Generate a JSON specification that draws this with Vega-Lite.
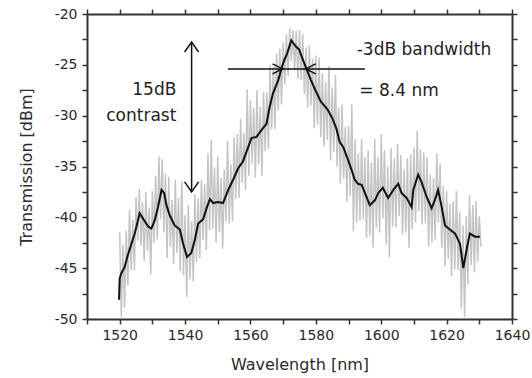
{
  "$schema": "https://vega.github.io/schema/vega-lite/v6.json",
  "autosize": "none",
  "width": 425,
  "height": 305,
  "padding": {"left": 87, "top": 14, "right": 20, "bottom": 59},
  "background": "white",
  "config": {
    "view": {"stroke": null},
    "font": "DejaVu Sans",
    "axis": {
      "domainColor": "#333333", "domainWidth": 2,
      "tickColor": "#333333", "tickWidth": 1.5, "tickSize": 5,
      "grid": false,
      "labelFont": "DejaVu Sans", "labelFontSize": 14, "labelColor": "#2a2a2a",
      "titleFont": "DejaVu Sans", "titleFontSize": 16, "titleFontWeight": "normal", "titleColor": "#2a2a2a"
    }
  },
  "datasets": {
    "raw": [
      {"w":1520.0,"p":-41.5},{"w":1520.5,"p":-49.8},{"w":1521.0,"p":-42.7},{"w":1521.5,"p":-48.9},{"w":1522.0,"p":-41.3},{"w":1522.5,"p":-46.7},{"w":1523.0,"p":-39.2},{"w":1523.5,"p":-45.2},{"w":1524.0,"p":-40.2},{"w":1524.5,"p":-45.2},
      {"w":1525.0,"p":-38.0},{"w":1525.5,"p":-42.3},{"w":1526.0,"p":-37.2},{"w":1526.5,"p":-42.8},{"w":1527.0,"p":-38.5},{"w":1527.5,"p":-44.3},{"w":1528.0,"p":-37.5},{"w":1528.5,"p":-43.3},{"w":1529.0,"p":-39.0},{"w":1529.5,"p":-45.6},
      {"w":1530.0,"p":-37.4},{"w":1530.5,"p":-42.5},{"w":1531.0,"p":-35.9},{"w":1531.5,"p":-42.2},{"w":1532.0,"p":-34.0},{"w":1532.5,"p":-40.2},{"w":1533.0,"p":-34.3},{"w":1533.5,"p":-41.5},{"w":1534.0,"p":-35.7},{"w":1534.5,"p":-44.0},
      {"w":1535.0,"p":-36.0},{"w":1535.5,"p":-42.9},{"w":1536.0,"p":-38.3},{"w":1536.5,"p":-44.6},{"w":1537.0,"p":-36.3},{"w":1537.5,"p":-43.5},{"w":1538.0,"p":-38.1},{"w":1538.5,"p":-45.3},{"w":1539.0,"p":-36.5},{"w":1539.5,"p":-45.7},
      {"w":1540.0,"p":-39.8},{"w":1540.5,"p":-47.8},{"w":1541.0,"p":-38.8},{"w":1541.5,"p":-46.1},{"w":1542.0,"p":-40.4},{"w":1542.5,"p":-46.3},{"w":1543.0,"p":-37.7},{"w":1543.5,"p":-44.4},{"w":1544.0,"p":-38.1},{"w":1544.5,"p":-44.0},
      {"w":1545.0,"p":-36.3},{"w":1545.5,"p":-42.2},{"w":1546.0,"p":-36.7},{"w":1546.5,"p":-43.2},{"w":1547.0,"p":-33.7},{"w":1547.5,"p":-41.3},{"w":1548.0,"p":-32.4},{"w":1548.5,"p":-41.1},{"w":1549.0,"p":-35.1},{"w":1549.5,"p":-42.5},
      {"w":1550.0,"p":-34.0},{"w":1550.5,"p":-41.5},{"w":1551.0,"p":-36.1},{"w":1551.5,"p":-43.1},{"w":1552.0,"p":-35.3},{"w":1552.5,"p":-40.4},{"w":1553.0,"p":-32.5},{"w":1553.5,"p":-40.6},{"w":1554.0,"p":-34.8},{"w":1554.5,"p":-40.4},
      {"w":1555.0,"p":-32.1},{"w":1555.5,"p":-38.2},{"w":1556.0,"p":-31.8},{"w":1556.5,"p":-38.1},{"w":1557.0,"p":-30.3},{"w":1557.5,"p":-36.6},{"w":1558.0,"p":-31.7},{"w":1558.5,"p":-37.3},{"w":1559.0,"p":-27.4},{"w":1559.5,"p":-35.9},
      {"w":1560.0,"p":-28.5},{"w":1560.5,"p":-34.7},{"w":1561.0,"p":-29.2},{"w":1561.5,"p":-36.1},{"w":1562.0,"p":-27.5},{"w":1562.5,"p":-34.8},{"w":1563.0,"p":-29.1},{"w":1563.5,"p":-35.9},{"w":1564.0,"p":-27.7},{"w":1564.5,"p":-33.5},
      {"w":1565.0,"p":-27.7},{"w":1565.5,"p":-33.3},{"w":1566.0,"p":-25.0},{"w":1566.5,"p":-31.3},{"w":1567.0,"p":-25.2},{"w":1567.5,"p":-31.3},{"w":1568.0,"p":-23.9},{"w":1568.5,"p":-29.5},{"w":1569.0,"p":-23.4},{"w":1569.5,"p":-28.9},
      {"w":1570.0,"p":-22.8},{"w":1570.5,"p":-26.9},{"w":1571.0,"p":-22.0},{"w":1571.5,"p":-26.1},{"w":1572.0,"p":-21.4},{"w":1572.5,"p":-24.6},{"w":1573.0,"p":-21.6},{"w":1573.5,"p":-25.5},{"w":1574.0,"p":-21.7},{"w":1574.5,"p":-26.4},
      {"w":1575.0,"p":-21.6},{"w":1575.5,"p":-26.5},{"w":1576.0,"p":-22.0},{"w":1576.5,"p":-27.9},{"w":1577.0,"p":-23.3},{"w":1577.5,"p":-29.2},{"w":1578.0,"p":-23.1},{"w":1578.5,"p":-29.0},{"w":1579.0,"p":-24.4},{"w":1579.5,"p":-31.2},
      {"w":1580.0,"p":-24.1},{"w":1580.5,"p":-30.9},{"w":1581.0,"p":-24.3},{"w":1581.5,"p":-32.1},{"w":1582.0,"p":-25.8},{"w":1582.5,"p":-33.0},{"w":1583.0,"p":-26.7},{"w":1583.5,"p":-32.4},{"w":1584.0,"p":-25.1},{"w":1584.5,"p":-34.4},
      {"w":1585.0,"p":-27.2},{"w":1585.5,"p":-33.6},{"w":1586.0,"p":-26.0},{"w":1586.5,"p":-35.0},{"w":1587.0,"p":-29.2},{"w":1587.5,"p":-36.7},{"w":1588.0,"p":-28.9},{"w":1588.5,"p":-36.2},{"w":1589.0,"p":-31.1},{"w":1589.5,"p":-38.5},
      {"w":1590.0,"p":-31.0},{"w":1590.5,"p":-37.9},{"w":1591.0,"p":-28.9},{"w":1591.5,"p":-41.4},{"w":1592.0,"p":-32.3},{"w":1592.5,"p":-40.5},{"w":1593.0,"p":-33.7},{"w":1593.5,"p":-40.3},{"w":1594.0,"p":-32.3},{"w":1594.5,"p":-40.2},
      {"w":1595.0,"p":-34.1},{"w":1595.5,"p":-42.0},{"w":1596.0,"p":-33.4},{"w":1596.5,"p":-41.8},{"w":1597.0,"p":-34.6},{"w":1597.5,"p":-43.0},{"w":1598.0,"p":-32.3},{"w":1598.5,"p":-41.0},{"w":1599.0,"p":-34.1},{"w":1599.5,"p":-41.5},
      {"w":1600.0,"p":-31.8},{"w":1600.5,"p":-40.1},{"w":1601.0,"p":-33.4},{"w":1601.5,"p":-42.7},{"w":1602.0,"p":-35.0},{"w":1602.5,"p":-43.9},{"w":1603.0,"p":-33.2},{"w":1603.5,"p":-40.9},{"w":1604.0,"p":-34.2},{"w":1604.5,"p":-41.0},
      {"w":1605.0,"p":-32.8},{"w":1605.5,"p":-39.9},{"w":1606.0,"p":-33.9},{"w":1606.5,"p":-41.7},{"w":1607.0,"p":-35.3},{"w":1607.5,"p":-41.5},{"w":1608.0,"p":-34.2},{"w":1608.5,"p":-43.0},{"w":1609.0,"p":-33.8},{"w":1609.5,"p":-41.2},
      {"w":1610.0,"p":-33.1},{"w":1610.5,"p":-40.5},{"w":1611.0,"p":-31.5},{"w":1611.5,"p":-39.4},{"w":1612.0,"p":-33.3},{"w":1612.5,"p":-40.7},{"w":1613.0,"p":-33.6},{"w":1613.5,"p":-40.6},{"w":1614.0,"p":-34.1},{"w":1614.5,"p":-42.9},
      {"w":1615.0,"p":-35.8},{"w":1615.5,"p":-42.5},{"w":1616.0,"p":-36.1},{"w":1616.5,"p":-42.2},{"w":1617.0,"p":-33.7},{"w":1617.5,"p":-40.5},{"w":1618.0,"p":-34.7},{"w":1618.5,"p":-43.0},{"w":1619.0,"p":-36.9},{"w":1619.5,"p":-44.8},
      {"w":1620.0,"p":-37.4},{"w":1620.5,"p":-44.1},{"w":1621.0,"p":-38.7},{"w":1621.5,"p":-45.8},{"w":1622.0,"p":-38.4},{"w":1622.5,"p":-45.1},{"w":1623.0,"p":-37.4},{"w":1623.5,"p":-45.2},{"w":1624.0,"p":-39.5},{"w":1624.5,"p":-49.0},
      {"w":1625.0,"p":-40.8},{"w":1625.5,"p":-49.8},{"w":1626.0,"p":-39.9},{"w":1626.5,"p":-46.6},{"w":1627.0,"p":-37.8},{"w":1627.5,"p":-44.7},{"w":1628.0,"p":-38.8},{"w":1628.5,"p":-45.4},{"w":1629.0,"p":-38.4},{"w":1629.5,"p":-44.4},
      {"w":1630.0,"p":-39.9},{"w":1630.5,"p":-42.9}
    ],
    "smooth": [
      {"w":1519.8,"p":-48.1},{"w":1520.0,"p":-46.0},{"w":1520.5,"p":-45.5},{"w":1521.5,"p":-44.9},{"w":1522.5,"p":-43.7},{"w":1523.6,"p":-42.6},{"w":1524.6,"p":-41.6},{"w":1526.1,"p":-39.6},{"w":1527.1,"p":-40.1},{"w":1528.7,"p":-40.9},
      {"w":1529.7,"p":-41.1},{"w":1530.7,"p":-40.3},{"w":1531.7,"p":-39.0},{"w":1532.8,"p":-37.3},{"w":1533.6,"p":-37.6},{"w":1534.3,"p":-38.8},{"w":1535.3,"p":-39.8},{"w":1536.8,"p":-40.8},{"w":1538.4,"p":-41.2},{"w":1539.4,"p":-42.6},
      {"w":1540.6,"p":-43.9},{"w":1541.9,"p":-43.5},{"w":1543.0,"p":-42.2},{"w":1544.0,"p":-40.6},{"w":1545.5,"p":-40.2},{"w":1546.7,"p":-39.0},{"w":1547.6,"p":-38.2},{"w":1548.6,"p":-38.6},{"w":1550.1,"p":-38.5},{"w":1551.6,"p":-38.6},
      {"w":1553.2,"p":-37.3},{"w":1554.7,"p":-36.3},{"w":1556.2,"p":-35.2},{"w":1557.7,"p":-34.5},{"w":1559.3,"p":-33.1},{"w":1560.3,"p":-32.2},{"w":1561.8,"p":-32.1},{"w":1563.4,"p":-31.4},{"w":1564.9,"p":-30.8},{"w":1565.9,"p":-29.1},
      {"w":1566.9,"p":-27.8},{"w":1568.5,"p":-26.5},{"w":1570.0,"p":-24.8},{"w":1571.2,"p":-23.9},{"w":1572.5,"p":-22.6},{"w":1573.9,"p":-23.2},{"w":1574.9,"p":-23.5},{"w":1575.9,"p":-24.4},{"w":1576.9,"p":-25.2},{"w":1578.5,"p":-26.5},
      {"w":1580.0,"p":-27.6},{"w":1581.5,"p":-28.6},{"w":1583.6,"p":-29.4},{"w":1585.1,"p":-30.3},{"w":1586.3,"p":-31.3},{"w":1587.3,"p":-32.6},{"w":1588.4,"p":-33.1},{"w":1589.9,"p":-34.4},{"w":1590.9,"p":-35.3},{"w":1591.9,"p":-36.3},
      {"w":1592.9,"p":-36.7},{"w":1594.0,"p":-36.8},{"w":1595.0,"p":-37.6},{"w":1596.5,"p":-38.8},{"w":1598.1,"p":-38.3},{"w":1599.1,"p":-37.6},{"w":1600.5,"p":-37.1},{"w":1602.1,"p":-38.1},{"w":1603.7,"p":-37.3},{"w":1605.2,"p":-36.7},
      {"w":1606.2,"p":-37.6},{"w":1607.8,"p":-38.1},{"w":1609.3,"p":-39.0},{"w":1609.8,"p":-37.3},{"w":1611.3,"p":-35.8},{"w":1612.3,"p":-36.5},{"w":1613.9,"p":-38.0},{"w":1615.4,"p":-39.1},{"w":1616.4,"p":-38.3},{"w":1617.4,"p":-37.3},
      {"w":1618.5,"p":-39.0},{"w":1619.5,"p":-40.8},{"w":1621.0,"p":-41.2},{"w":1622.6,"p":-41.6},{"w":1624.1,"p":-42.6},{"w":1625.1,"p":-45.0},{"w":1626.1,"p":-43.2},{"w":1627.1,"p":-41.6},{"w":1628.7,"p":-41.9},{"w":1630.2,"p":-41.9}
    ],
    "rules": [
      {"x":1542.0,"x2":1542.0,"y":-22.75,"y2":-37.5},
      {"x":1553.1,"x2":1595.0,"y":-25.4,"y2":-25.4}
    ],
    "heads": [
      {"x":1542.0,"y":-22.75,"dir":"up"},
      {"x":1542.0,"y":-37.5,"dir":"down"},
      {"x":1569.8,"y":-25.4,"dir":"right"},
      {"x":1576.9,"y":-25.4,"dir":"left"}
    ],
    "notesC": [
      {"x":1530.6,"y":-27.5,"t":"15dB"},
      {"x":1526.6,"y":-30.0,"t":"contrast"}
    ],
    "notesL": [
      {"x":1592.5,"y":-23.5,"t":"-3dB bandwidth"},
      {"x":1593.3,"y":-27.6,"t":"= 8.4 nm"}
    ]
  },
  "layer": [
    {
      "data": {"name": "raw"},
      "mark": {"type": "line", "color": "#c4c4c4", "strokeWidth": 1.5},
      "encoding": {
        "x": {"field": "w", "type": "quantitative",
              "scale": {"domain": [1510, 1640], "nice": false},
              "axis": {"title": "Wavelength [nm]", "values": [1510,1520,1530,1540,1550,1560,1570,1580,1590,1600,1610,1620,1630,1640],
                       "labelExpr": "datum.value % 20 === 0 && datum.value >= 1520 ? datum.value : ''",
                       "labelPadding": 4, "titlePadding": 14, "labelFlush": false}},
        "y": {"field": "p", "type": "quantitative",
              "scale": {"domain": [-50, -20], "nice": false, "zero": false},
              "axis": {"title": "Transmission [dBm]", "values": [-50,-47.5,-45,-42.5,-40,-37.5,-35,-32.5,-30,-27.5,-25,-22.5,-20],
                       "labelExpr": "datum.value % 5 === 0 ? datum.value : ''",
                       "labelPadding": 5, "titlePadding": 20, "labelFlush": false}}
      }
    },
    {
      "data": {"name": "smooth"},
      "mark": {"type": "line", "color": "#111111", "strokeWidth": 2},
      "encoding": {
        "x": {"field": "w", "type": "quantitative",
              "axis": {"orient": "top", "title": null, "labels": false, "values": [1510,1520,1530,1540,1550,1560,1570,1580,1590,1600,1610,1620,1630,1640]}},
        "y": {"field": "p", "type": "quantitative",
              "axis": {"orient": "right", "title": null, "labels": false, "values": [-50,-47.5,-45,-42.5,-40,-37.5,-35,-32.5,-30,-27.5,-25,-22.5,-20]}}
      }
    },
    {
      "data": {"name": "rules"},
      "mark": {"type": "rule", "color": "#111111", "strokeWidth": 1.5},
      "encoding": {
        "x": {"field": "x", "type": "quantitative", "axis": null},
        "x2": {"field": "x2"},
        "y": {"field": "y", "type": "quantitative", "axis": null},
        "y2": {"field": "y2"}
      }
    },
    {
      "data": {"name": "heads"},
      "mark": {"type": "point", "filled": false, "stroke": "#111111", "strokeWidth": 1.5, "size": 400, "opacity": 1},
      "encoding": {
        "x": {"field": "x", "type": "quantitative", "axis": null},
        "y": {"field": "y", "type": "quantitative", "axis": null},
        "shape": {"field": "dir", "type": "nominal", "legend": null,
                  "scale": {"domain": ["up", "down", "right", "left"],
                            "range": ["M-0.7,1L0,0L0.7,1", "M-0.7,-1L0,0L0.7,-1", "M-1,-0.5L0,0L-1,0.5", "M1,-0.5L0,0L1,0.5"]}}
      }
    },
    {
      "data": {"name": "notesC"},
      "mark": {"type": "text", "align": "center", "baseline": "middle", "font": "DejaVu Sans", "fontSize": 17, "color": "#222222"},
      "encoding": {
        "x": {"field": "x", "type": "quantitative", "axis": null},
        "y": {"field": "y", "type": "quantitative", "axis": null},
        "text": {"field": "t"}
      }
    },
    {
      "data": {"name": "notesL"},
      "mark": {"type": "text", "align": "left", "baseline": "middle", "font": "DejaVu Sans", "fontSize": 17, "color": "#222222"},
      "encoding": {
        "x": {"field": "x", "type": "quantitative", "axis": null},
        "y": {"field": "y", "type": "quantitative", "axis": null},
        "text": {"field": "t"}
      }
    }
  ],
  "resolve": {"axis": {"x": "independent", "y": "independent"}}
}
